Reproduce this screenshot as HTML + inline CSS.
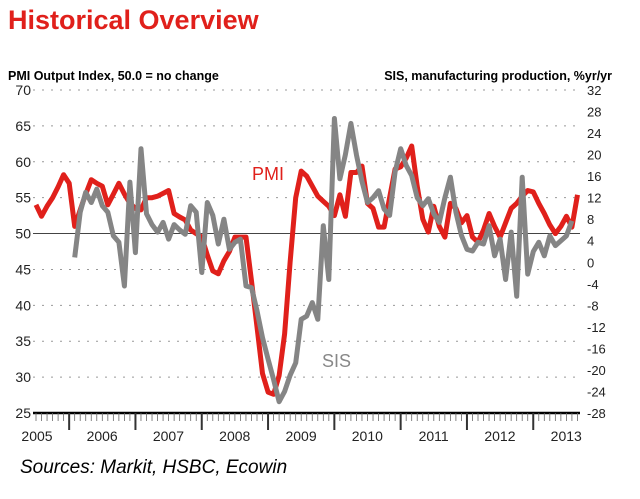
<!DOCTYPE html>
<html><head><meta charset="utf-8"><style>
body{margin:0;background:#fff;width:640px;height:494px;overflow:hidden;font-family:"Liberation Sans",Arial,sans-serif}
</style></head><body>
<svg id="c" width="640" height="494" viewBox="0 0 640 494">
<text x="8" y="29" font-size="27" font-weight="bold" fill="#e0201b">Historical Overview</text>
<text x="8" y="80" font-size="12.5" font-weight="bold" fill="#000">PMI Output Index, 50.0 = no change</text>
<text x="612" y="80" font-size="12.5" font-weight="bold" fill="#000" text-anchor="end">SIS, manufacturing production, %yr/yr</text>
<text x="20" y="473" font-size="19" font-style="italic" fill="#000">Sources: Markit, HSBC, Ecowin</text>
<g id="grid"></g><g id="axes"></g><g id="series"></g>
<text x="252" y="180" font-size="18" fill="#e0201b">PMI</text>
<text x="322" y="367" font-size="18" fill="#888">SIS</text>
</svg>
<script>
const leftTicks=[70,65,60,55,50,45,40,35,30,25];
const rightTicks=[32,28,24,20,16,12,8,4,0,-4,-8,-12,-16,-20,-24,-28];
const years=["2005","2006","2007","2008","2009","2010","2011","2012","2013"];
// monthly PMI from Jul 2005
const pmi=[54,52.4,53.8,55,56.5,58.2,57,51,53.3,55.5,57.5,57,56.6,54,55.5,57,55.5,54.2,53.5,53.3,55,55,55.2,55.6,56,52.8,52.3,51.9,50.5,50,49.5,47,44.8,44.4,46.2,47.5,49.5,49.5,49.5,43.4,37,30.5,27.9,27.6,30.2,36,46,55,58.7,58,56.6,55.2,54.5,53.8,52.5,55.4,52.4,58.5,58.5,59.4,54.2,53.5,50.9,50.9,55,59,59.3,60.5,62.2,56.6,52,50.2,53.8,51,49.5,54.2,53.5,51.5,52.5,49.5,48.8,50.5,52.8,51,49.5,51.5,53.5,54.2,55.2,56,55.8,54.2,52.8,51.2,50,51,52.4,50.9,55.4];
// SIS starts at month index 7
const sisStart=7;
const sis=[0.9,9.3,13,11.1,13.6,10.5,9.3,4.9,3.7,-4.4,14.9,1.8,21.1,9,7,5.6,7.4,4.3,7,6,5.2,10.5,9.3,-1.9,11.1,8.7,3.4,8,2.4,3.7,4.3,-4.4,-4.7,-9,-14,-18,-21.8,-25.9,-24,-21,-18.7,-10.6,-10,-7.5,-10.6,6.8,-3.2,26.7,15.5,20,25.8,19.9,15,11.1,12,13.3,9.9,8.7,16.8,21.1,18,16.1,12,10.5,11.8,9,7.4,12,15.8,9.3,5,2.4,2.1,3.7,3.4,6.8,1.2,4.3,-3.2,5.6,-6.3,15.8,-2.2,2,3.7,1.2,4.9,3.1,4,4.9,7.7];
const NS="http://www.w3.org/2000/svg";
const X0=36,AX0=33,X1=580,YT=90,YB=413,MPX=5.525;
const xm=m=>X0+m*MPX;
const yl=v=>YT+(70-v)/45*(YB-YT);
const yr=v=>YT+(32-v)/60*(YB-YT);
function mk(tag,attrs,parent,txt){const e=document.createElementNS(NS,tag);for(const k in attrs)e.setAttribute(k,attrs[k]);if(txt!==undefined)e.textContent=txt;document.getElementById(parent).appendChild(e);return e;}
leftTicks.forEach(v=>{
  if(v>25){const g=mk('line',{x1:AX0,x2:X1,y1:yl(v),y2:yl(v),stroke:v===50?'#444':'#999','stroke-width':1,'stroke-dasharray':v===50?'':'2,7'},'grid');
  
  }
  const t=mk('text',{x:31,y:yl(v)+5,'font-size':14,'text-anchor':'end',fill:'#222'},'axes',v);
  
  
});
rightTicks.forEach(v=>{
  const t=mk('text',{x:587,y:yr(v)+5,'font-size':13,fill:'#222'},'axes',v);
  
  
});
const ax=mk('line',{x1:AX0,x2:X1,y1:YB,y2:YB,stroke:'#000','stroke-width':2.5},'axes');


for(let m=0;xm(m)<=X1+0.5;m++){
  const isYear=(m+6)%12===0;
  const tk=mk('line',{x1:xm(m),x2:xm(m),y1:YB,y2:YB+(isYear?17:8),stroke:isYear?'#333':'#666','stroke-width':isYear?2:0.8},'axes');
  
  
}
years.forEach((y,i)=>{
  const mid=i===0?37:xm(12*i-6)+33;
  const t=mk('text',{x:mid,y:441,'font-size':14,'text-anchor':'middle',fill:'#222'},'axes',y);
  
  
});
const sp=sis.map((v,i)=>xm(i+sisStart).toFixed(1)+','+yr(v).toFixed(1)).join(' ');
const s=mk('polyline',{points:sp,fill:'none',stroke:'#858585','stroke-width':5,'stroke-linejoin':'round'},'series');


const pp=pmi.map((v,i)=>xm(i).toFixed(1)+','+yl(v).toFixed(1)).join(' ');
const p=mk('polyline',{points:pp,fill:'none',stroke:'#e0201b','stroke-width':5,'stroke-linejoin':'round'},'series');


document.getElementById('series').appendChild(s);
</script>
</body></html>
